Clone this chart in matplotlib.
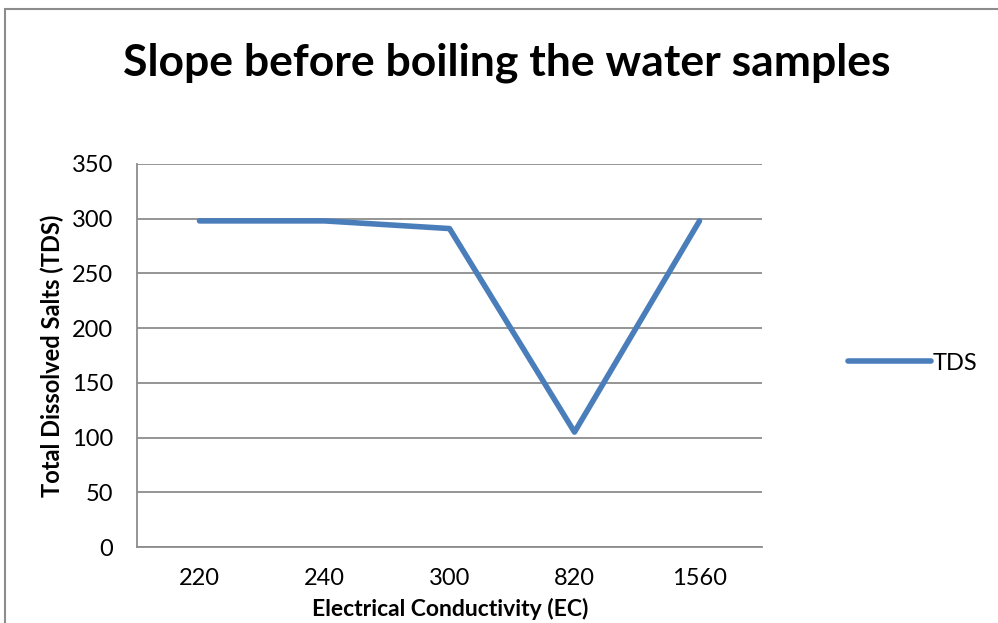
import matplotlib.pyplot as plt
from matplotlib.patches import Rectangle


ec_labels = ["220", "240", "300", "820", "1560"]
tds_values = [298, 298, 291, 105, 298]
y_ticks = [0, 50, 100, 150, 200, 250, 300, 350]


def main():
    plt.rcParams["font.family"] = ["Lato", "DejaVu Sans"]

    fig = plt.figure(figsize=(9.98, 6.23), dpi=100)
    ax = fig.add_axes([137 / 998, 1 - 547 / 623, 625 / 998, 383 / 623])

    # outer chart frame (cut off at right and bottom like the screenshot)
    fig.patches.append(Rectangle((5 / 998, -0.1), 1.2, 1.1 - 9 / 623,
                                 transform=fig.transFigure, fill=False,
                                 edgecolor="#8c8c8c", linewidth=1.5))

    x = range(len(ec_labels))
    ax.plot(x, tds_values, color="#4a7ebb", linewidth=4, solid_capstyle="round",
            solid_joinstyle="round", label="TDS")

    ax.set_xlim(-0.5, len(ec_labels) - 0.5)
    ax.set_ylim(0, 350)
    ax.set_yticks(y_ticks)
    ax.set_xticks(list(x))
    ax.set_xticklabels(ec_labels)
    ax.tick_params(length=0, labelsize=17, colors="black")
    ax.tick_params(axis="x", pad=15)
    ax.tick_params(axis="y", pad=17)
    ax.grid(axis="y", color="#8c8c8c", linewidth=1.3)
    ax.set_axisbelow(True)
    for side in ["top", "right"]:
        ax.spines[side].set_visible(False)
    for side in ["left", "bottom"]:
        ax.spines[side].set_color("#8c8c8c")
        ax.spines[side].set_linewidth(1.3)

    # x label placed directly, it sits tight under the tick labels in the original
    fig.text(450 / 998, 1 - 609 / 623, "Electrical Conductivity (EC)",
             ha="center", va="center", fontsize=16.5, fontweight="bold")
    ax.set_ylabel("Total Dissolved Salts (TDS)", fontsize=17, fontweight="bold", labelpad=6)
    fig.text(0.5 * (120 + 893) / 998, 1 - 63 / 623, "Slope before boiling the water samples",
             ha="center", va="center", fontsize=32, fontweight="bold")

    fig.legend(loc="center left", bbox_to_anchor=(848 / 998, 1 - 363 / 623), frameon=False,
               fontsize=17, handlelength=3.5, handletextpad=0.1, borderpad=0, borderaxespad=0)

    fig.savefig("out.png", dpi=100)
    plt.close(fig)


if __name__ == "__main__":
    main()
